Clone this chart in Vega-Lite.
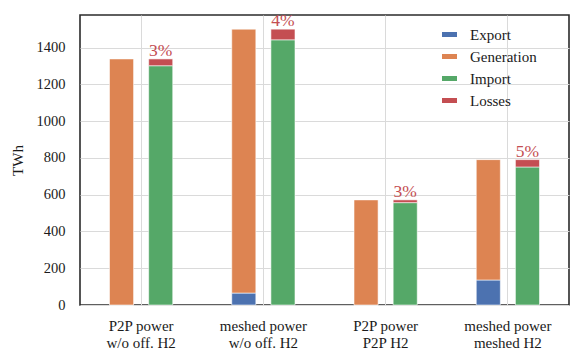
{
  "$schema": "https://vega.github.io/schema/vega-lite/v6.json",
  "autosize": "none",
  "width": 489,
  "height": 290,
  "padding": {"left": 80, "top": 15, "right": 12, "bottom": 58},
  "background": "white",
  "config": {
    "font": "Liberation Serif",
    "view": {"stroke": "#2b2b2b", "strokeWidth": 1.6},
    "axis": {"labelFont": "Liberation Serif", "titleFont": "Liberation Serif", "labelColor": "#1a1a1a", "titleColor": "#1a1a1a", "gridColor": "#dadada", "gridWidth": 1, "domain": false, "ticks": false},
    "legend": {"labelFont": "Liberation Serif"},
    "text": {"font": "Liberation Serif"}
  },
  "datasets": {
    "bars": [
      {"group": "P2P power|w/o off. H2", "side": "a", "category": "Export", "ord": 0, "value": 0},
      {"group": "P2P power|w/o off. H2", "side": "a", "category": "Generation", "ord": 1, "value": 1339},
      {"group": "P2P power|w/o off. H2", "side": "b", "category": "Import", "ord": 2, "value": 1302},
      {"group": "P2P power|w/o off. H2", "side": "b", "category": "Losses", "ord": 3, "value": 37},
      {"group": "meshed power|w/o off. H2", "side": "a", "category": "Export", "ord": 0, "value": 65},
      {"group": "meshed power|w/o off. H2", "side": "a", "category": "Generation", "ord": 1, "value": 1436},
      {"group": "meshed power|w/o off. H2", "side": "b", "category": "Import", "ord": 2, "value": 1443},
      {"group": "meshed power|w/o off. H2", "side": "b", "category": "Losses", "ord": 3, "value": 58},
      {"group": "P2P power|P2P H2", "side": "a", "category": "Export", "ord": 0, "value": 0},
      {"group": "P2P power|P2P H2", "side": "a", "category": "Generation", "ord": 1, "value": 572},
      {"group": "P2P power|P2P H2", "side": "b", "category": "Import", "ord": 2, "value": 557},
      {"group": "P2P power|P2P H2", "side": "b", "category": "Losses", "ord": 3, "value": 15},
      {"group": "meshed power|meshed H2", "side": "a", "category": "Export", "ord": 0, "value": 136},
      {"group": "meshed power|meshed H2", "side": "a", "category": "Generation", "ord": 1, "value": 655},
      {"group": "meshed power|meshed H2", "side": "b", "category": "Import", "ord": 2, "value": 751},
      {"group": "meshed power|meshed H2", "side": "b", "category": "Losses", "ord": 3, "value": 40}
    ],
    "labels": [
      {"group": "P2P power|w/o off. H2", "side": "b", "total": 1339, "label": "3%"},
      {"group": "meshed power|w/o off. H2", "side": "b", "total": 1501, "label": "4%"},
      {"group": "P2P power|P2P H2", "side": "b", "total": 572, "label": "3%"},
      {"group": "meshed power|meshed H2", "side": "b", "total": 791, "label": "5%"}
    ]
  },
  "encoding": {
    "x": {
      "field": "group", "type": "nominal", "sort": null,
      "scale": {"domain": ["P2P power|w/o off. H2", "meshed power|w/o off. H2", "P2P power|P2P H2", "meshed power|meshed H2"], "paddingInner": 0, "paddingOuter": 0},
      "axis": {"title": null, "labelAngle": 0, "labelFont": "Liberation Serif", "labelFontSize": 15, "labelPadding": 13, "labelLineHeight": 17, "labelExpr": "split(datum.value, '|')", "grid": true, "bandPosition": 0.5}
    },
    "xOffset": {
      "field": "side", "type": "nominal",
      "scale": {"domain": ["a", "b"], "paddingInner": 0.385, "paddingOuter": 0.754}
    }
  },
  "layer": [
    {
      "data": {"name": "bars"},
      "mark": {"type": "bar", "stroke": "white", "strokeWidth": 0.7, "strokeOpacity": 0.8},
      "encoding": {
        "y": {
          "field": "value", "type": "quantitative", "stack": "zero",
          "scale": {"domain": [0, 1578], "nice": false, "zero": true},
          "axis": {"title": "TWh", "titleFont": "Liberation Serif", "titleFontSize": 15, "titleFontWeight": "normal", "titlePadding": 11, "labelFont": "Liberation Serif", "labelFontSize": 14.5, "labelPadding": 15, "format": "d", "values": [0, 200, 400, 600, 800, 1000, 1200, 1400], "grid": true}
        },
        "color": {
          "field": "category", "type": "nominal",
          "scale": {"domain": ["Export", "Generation", "Import", "Losses"], "range": ["#4C72B0", "#DD8452", "#55A868", "#C44E52"]},
          "legend": {"title": null, "orient": "none", "legendX": 362, "legendY": 12, "symbolType": "M-1,-0.333H1V0.333H-1Z", "symbolSize": 225, "symbolStrokeWidth": 0, "labelFont": "Liberation Serif", "labelFontSize": 15, "labelColor": "#1a1a1a", "labelOffset": 13, "rowPadding": 6, "symbolOpacity": 1}
        },
        "order": {"field": "ord", "type": "quantitative"}
      }
    },
    {
      "data": {"name": "labels"},
      "mark": {"type": "text", "baseline": "alphabetic", "dy": -3, "fontSize": 17.5, "color": "#C44E52", "font": "Liberation Serif"},
      "encoding": {
        "y": {"field": "total", "type": "quantitative"},
        "text": {"field": "label"}
      }
    }
  ]
}
